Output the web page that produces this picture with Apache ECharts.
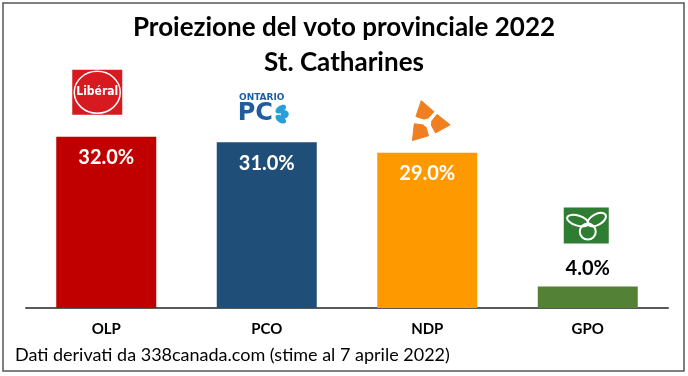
<!DOCTYPE html>
<html>
<head>
<meta charset="utf-8">
<script src="https://cdn.jsdelivr.net/npm/echarts@6/dist/echarts.min.js"></script>
<style>
	html, body { margin: 0; padding: 0; background: #fff; }
	#chart { width: 688px; height: 376px; }
</style>
</head>
<body>
<div id="chart"></div>
<script>
	// dati
	var partiti = ['OLP', 'PCO', 'NDP', 'GPO'];
	var valori = [32.0, 31.0, 29.0, 4.0];
	var colori = ['#C00000', '#1F4E79', '#FF9900', '#538135'];

	var font = 'Lato, "Open Sans", sans-serif';
	var myChart = echarts.init(document.getElementById('chart'));

	var dati = [];
	for (var i = 0; i < valori.length; i++) {
		var interno = valori[i] > 10;
		dati.push({
			value: valori[i],
			itemStyle: { color: colori[i] },
			label: {
				position: interno ? 'insideTop' : 'top',
				distance: interno ? 11 : 8,
				color: interno ? '#fff' : '#000'
			}
		});
	}

	var option = {
		animation: false,
		title: {
			text: 'Proiezione del voto provinciale 2022\nSt. Catharines',
			left: 'center',
			top: 5,
			textStyle: { fontFamily: font, fontSize: 26, fontWeight: 'bold', color: '#000', lineHeight: 35 }
		},
		grid: { left: 26, right: 20, top: 94, bottom: 68 },
		xAxis: {
			type: 'category',
			data: partiti,
			axisTick: { show: false },
			axisLine: { lineStyle: { color: '#595959', width: 2 } },
			axisLabel: { margin: 14, color: '#000', fontFamily: font, fontSize: 15, fontWeight: 'bold' }
		},
		yAxis: { type: 'value', min: 0, max: 40, show: false, splitLine: { show: false } },
		series: [{
			type: 'bar',
			barWidth: 100,
			data: dati,
			label: {
				show: true,
				fontFamily: font,
				fontSize: 20,
				fontWeight: 'bold',
				formatter: function (p) { return p.value.toFixed(1) + '%'; }
			}
		}]
	};
	myChart.setOption(option);

	// loghi dei partiti, posizionati sopra le barre
	function pos(i) { return myChart.convertToPixel({ seriesIndex: 0 }, [i, valori[i]]); }
	var p0 = pos(0), p1 = pos(1), p2 = pos(2), p3 = pos(3);

	var petali = [];
	var angoli = [-105, 5, 130];
	var cx = p2[0], cy = p2[1] - 30;
	for (var k = 0; k < angoli.length; k++) {
		var a = angoli[k] * Math.PI / 180;
		var b1 = a - 0.8, b2 = a + 0.8;
		petali.push({
			type: 'polygon',
			shape: { points: [
				[cx + Math.cos(a) * 3, cy + Math.sin(a) * 3],
				[cx + Math.cos(b1) * 13, cy + Math.sin(b1) * 13],
				[cx + Math.cos(a) * 23, cy + Math.sin(a) * 23],
				[cx + Math.cos(b2) * 13, cy + Math.sin(b2) * 13]
			] },
			style: { fill: '#F07F22', stroke: '#F07F22', lineWidth: 1, lineJoin: 'round' }
		});
	}
	petali.push({ type: 'circle', shape: { cx: cx, cy: cy, r: 4 }, style: { fill: '#fff' } });

	myChart.setOption({
		graphic: [
			{ type: 'rect', shape: { x: 0, y: 0, width: 681, height: 368 }, x: 3, y: 3, style: { fill: 'none', stroke: '#555', lineWidth: 1.5 }, silent: true },
			// Liberal
			{ type: 'rect', shape: { x: p0[0] - 34, y: p0[1] - 67, width: 50, height: 45 }, style: { fill: '#D71920' } },
			{ type: 'ellipse', shape: { cx: p0[0] - 9, cy: p0[1] - 44.5, rx: 23, ry: 21 }, style: { fill: 'none', stroke: '#fff', lineWidth: 1.5 } },
			{ type: 'text', x: p0[0] - 9, y: p0[1] - 44.5, style: { text: 'Libéral', fill: '#fff', font: 'bold 12px "DejaVu Sans Condensed", sans-serif', align: 'center', verticalAlign: 'middle' } },
			// PC
			{ type: 'text', x: p1[0] - 5, y: p1[1] - 44, style: { text: 'ONTARIO', fill: '#1F5DA0', font: 'bold 9px "DejaVu Sans", sans-serif', align: 'center', verticalAlign: 'middle' } },
			{ type: 'text', x: p1[0] - 29, y: p1[1] - 28, style: { text: 'PC', fill: '#1F5DA0', font: 'bold 24px "DejaVu Sans", sans-serif', align: 'left', verticalAlign: 'middle' } },
			{ type: 'ellipse', x: p1[0] + 14, y: p1[1] - 33, rotation: 0.6, shape: { cx: 0, cy: 0, rx: 6, ry: 3.5 }, style: { fill: '#2A9FD6' } },
			{ type: 'ellipse', x: p1[0] + 14, y: p1[1] - 23, rotation: -0.6, shape: { cx: 0, cy: 0, rx: 6, ry: 3.5 }, style: { fill: '#2A9FD6' } },
			{ type: 'ellipse', x: p1[0] + 18, y: p1[1] - 28, shape: { cx: 0, cy: 0, rx: 4, ry: 4 }, style: { fill: '#2A9FD6' } }
		].concat(petali).concat([
			// GPO
			{ type: 'rect', shape: { x: p3[0] - 24, y: p3[1] - 79, width: 45, height: 36 }, style: { fill: '#2E7D32' } },
			{ type: 'ellipse', x: p3[0] - 10, y: p3[1] - 66, rotation: -0.3, shape: { cx: 0, cy: 0, rx: 11, ry: 5 }, style: { fill: 'none', stroke: '#fff', lineWidth: 2 } },
			{ type: 'ellipse', x: p3[0] + 9, y: p3[1] - 67, rotation: 0.5, shape: { cx: 0, cy: 0, rx: 10, ry: 5.5 }, style: { fill: 'none', stroke: '#fff', lineWidth: 2 } },
			{ type: 'circle', shape: { cx: p3[0], cy: p3[1] - 55, r: 8 }, style: { fill: 'none', stroke: '#fff', lineWidth: 2 } },
			// fonte
			{ type: 'text', x: 15, y: 355, style: { text: 'Dati derivati da 338canada.com (stime al 7 aprile 2022)', fill: '#000', font: '18px ' + font, verticalAlign: 'middle' } }
		])
	});
</script>
</body>
</html>
